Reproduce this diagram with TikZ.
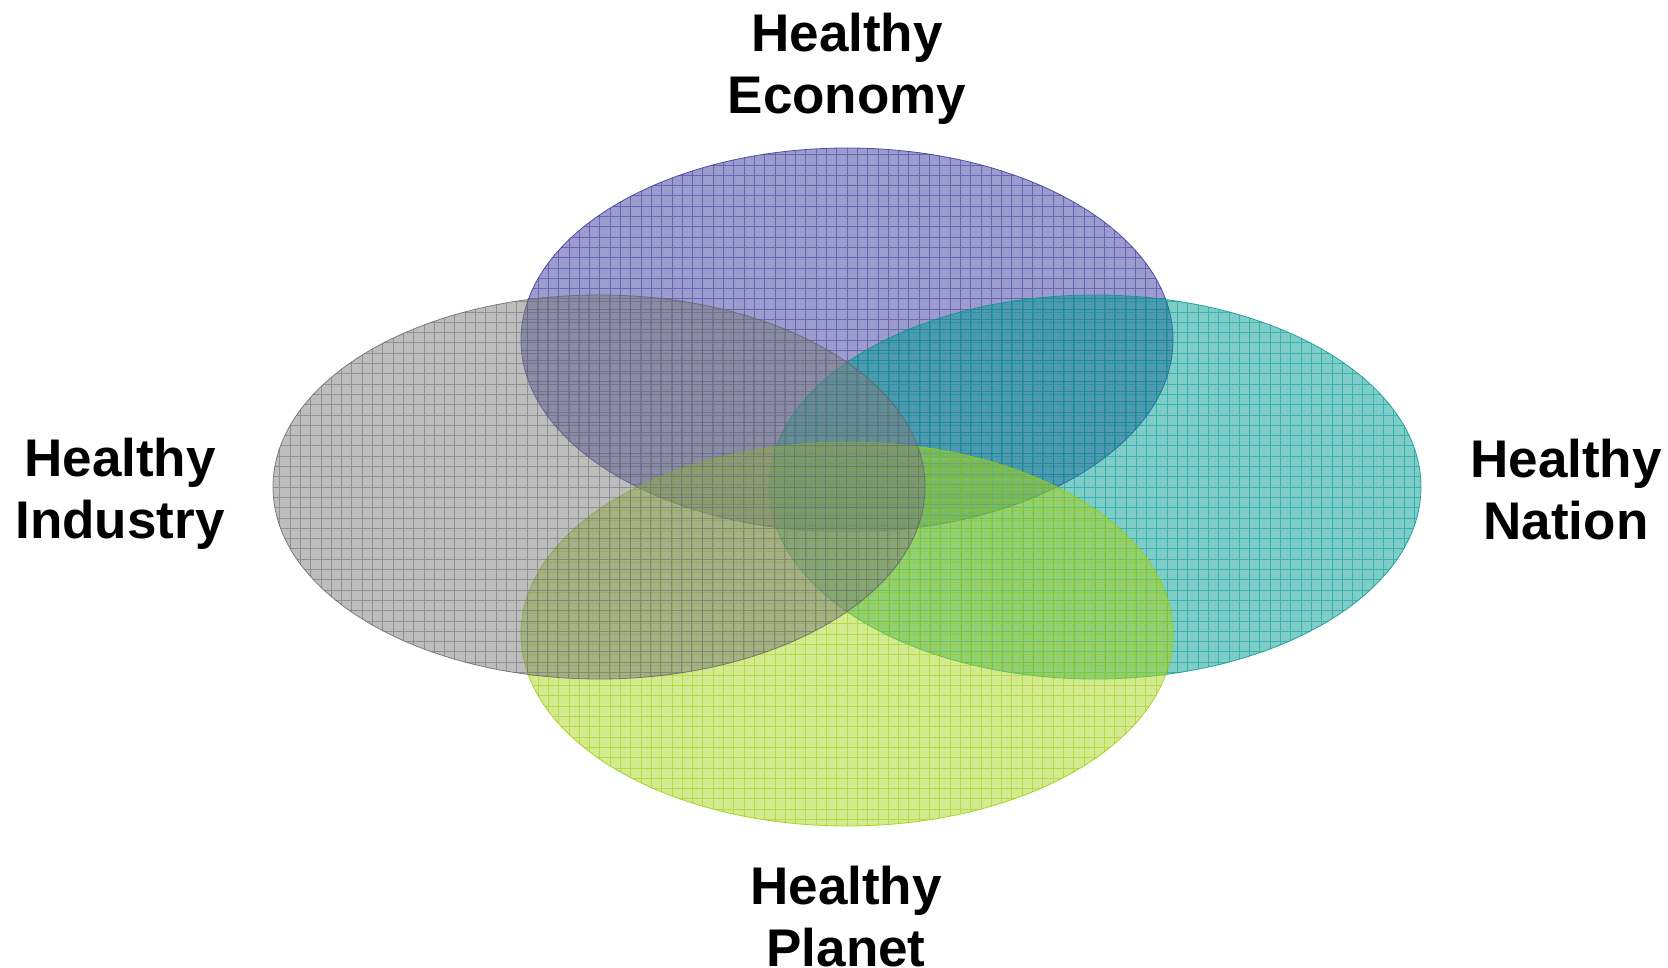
\documentclass[tikz,border=0pt]{standalone}
\usepackage{fontspec}
\setmainfont{Liberation Sans}
\usetikzlibrary{shapes.geometric}
\definecolor{ecoFill}{RGB}{57,57,160}
\definecolor{ecoLine}{RGB}{50,50,150}
\definecolor{indFill}{RGB}{124,124,124}
\definecolor{indLine}{RGB}{100,100,100}
\definecolor{natFill}{RGB}{0,155,147}
\definecolor{natLine}{RGB}{0,150,142}
\definecolor{plaFill}{RGB}{167,213,29}
\definecolor{plaLine}{RGB}{150,205,10}
\begin{document}
\begin{tikzpicture}[x=1pt,y=-1pt]
\tikzset{
  vennset/.style 2 args={ellipse, minimum width=652pt, minimum height=384pt, inner sep=0pt,
    fill=#1, fill opacity=0.5, draw=#2, line width=0.8pt, draw opacity=0.8,
    path picture={\draw[#2, line width=0.7pt, opacity=0.5, step=10.3pt]
      (path picture bounding box.south west) grid (path picture bounding box.north east);}},
  lbl/.style={font=\bfseries\fontsize{53}{62}\selectfont, align=center, text=black, inner sep=0pt},
}
\useasboundingbox (0,0) rectangle (1668,968);
\node[vennset={ecoFill}{ecoLine}] (economy) at (847,340) {};
\node[vennset={natFill}{natLine}] (nation) at (1095,487) {};
\node[vennset={plaFill}{plaLine}] (planet) at (847,634) {};
\node[vennset={indFill}{indLine}] (industry) at (599,487) {};
\node[lbl] (lEco) at (847,69) {Healthy\\Economy};
\node[lbl] (lInd) at (120,494) {Healthy\\Industry};
\node[lbl] (lNat) at (1566,490) {Healthy\\Nation};
\node[lbl] (lPla) at (846,917) {Healthy\\Planet};
\end{tikzpicture}
\end{document}
